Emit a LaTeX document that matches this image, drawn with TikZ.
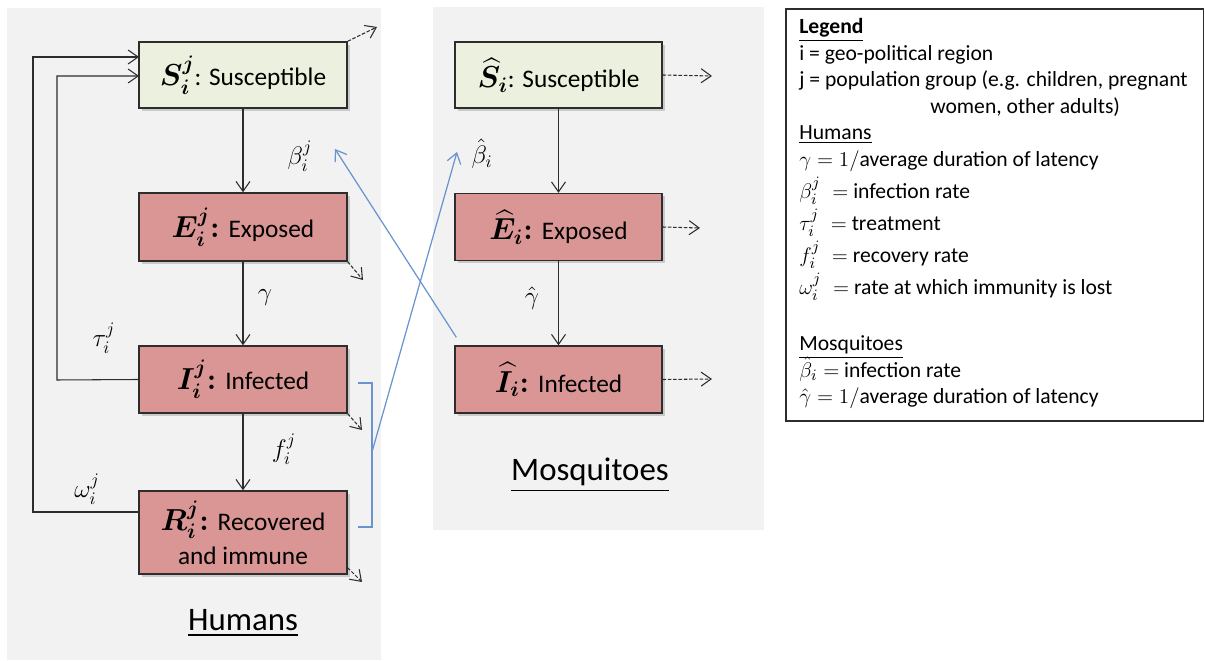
\documentclass[tikz,border=0pt]{standalone}
\usepackage{amsmath,amssymb}
\usepackage{fontspec}
\setmainfont{Carlito}
\usepackage{tikz}
\usetikzlibrary{positioning,arrows.meta,shadows}

\definecolor{panelgray}{RGB}{242,242,242}
\definecolor{suscgreen}{RGB}{235,241,222}
\definecolor{infred}{RGB}{217,150,148}
\definecolor{linkblue}{RGB}{105,148,206}
\definecolor{boxline}{RGB}{45,45,45}

\newcommand{\mlab}[1]{{\fontsize{17.5}{20}\selectfont$\boldsymbol{#1}$}}
\newcommand{\tlab}[1]{{\fontsize{14.4}{17}\selectfont #1}}
\newcommand{\legendfont}{\fontsize{12.3}{15.1}\selectfont\lineskiplimit=-20pt\relax\lineskip=0pt\relax}

\begin{document}
\begin{tikzpicture}[x=0.02cm, y=-0.02cm, >={Straight Barb[length=2mm,width=2.8mm]},
  compartment/.style={draw=boxline, line width=0.8pt, minimum width=4.16cm, align=center,
    inner sep=1pt, drop shadow={shadow xshift=0.6mm, shadow yshift=-0.6mm, opacity=0.35}},
  susc/.style={compartment, fill=suscgreen},
  sick/.style={compartment, fill=infred},
  flow/.style={->, line width=0.6pt, draw=boxline},
  outflow/.style={->, line width=0.6pt, draw=boxline, dash pattern=on 2pt off 1pt},
  bite/.style={->, line width=0.7pt, draw=linkblue},
  rate/.style={font=\fontsize{14}{16}\selectfont},
  panellabel/.style={font=\fontsize{18.7}{22}\selectfont}]

\useasboundingbox (0,0) rectangle (1205,661);

% panels
\fill[panelgray] (7,8) rectangle (381,660);
\fill[panelgray] (433,7) rectangle (764,530);

% humans
\node[susc, minimum height=1.32cm] (S) at (243,75) {\mlab{S_i^j}\tlab{: Susceptible}};
\node[sick, minimum height=1.36cm] (E) at (243,227) {\mlab{E_i^j}\mlab{:}\hspace{0.18cm}\tlab{Exposed}};
\node[sick, minimum height=1.34cm] (I) at (243,379.5) {\mlab{I_i^j}\mlab{:}\hspace{0.18cm}\tlab{Infected}};
\node[sick, minimum height=1.66cm, font=\fontsize{14.4}{19.5}\selectfont] (R) at (243,532.5)
  {\mlab{R_i^j}\mlab{:}\hspace{0.18cm}\tlab{Recovered}\\\tlab{and immune}};
\node[panellabel] (hum) at (243,623) {\underline{Humans}};

% mosquitoes
\node[susc, minimum width=4.14cm, minimum height=1.32cm] (Sh) at (558.5,75) {\mlab{\widehat{S}_i}\tlab{: Susceptible}};
\node[sick, minimum width=4.14cm, minimum height=1.34cm] (Eh) at (558.5,227) {\mlab{\widehat{E}_i}\mlab{:}\hspace{0.18cm}\tlab{Exposed}};
\node[sick, minimum width=4.14cm, minimum height=1.34cm] (Ih) at (558.5,379.5) {\mlab{\widehat{I}_i}\mlab{:}\hspace{0.18cm}\tlab{Infected}};
\node[panellabel] (mos) at (590,475) {\underline{Mosquitoes}};

% rates
\node[rate] (beta) at (300,156) {$\beta_i^j$};
\node[rate] (gam) at (265,298) {$\gamma$};
\node[rate] (tau) at (104,338) {$\tau_i^j$};
\node[rate] (frec) at (284,449) {$f_i^j$};
\node[rate] (omg) at (87,489) {$\omega_i^j$};
\node[rate] (betah) at (482,154) {$\hat{\beta}_i$};
\node[rate] (gamh) at (532,298) {$\hat{\gamma}$};

% transitions
\draw[flow] (S) -- (E);
\draw[flow] (E) -- (I);
\draw[flow] (I) -- (R);
\draw[flow] (Sh) -- (Eh);
\draw[flow] (Eh) -- (Ih);

% loops back to S
\coordinate (outerIn) at (139,57);
\coordinate (innerIn) at (139,76);
\coordinate (outerX) at (33,512);
\coordinate (innerX) at (57,380);
\draw[flow] (R.west |- outerX) -- (outerX) |- (outerIn);
\draw[flow] (I.west) -- (innerX) |- (innerIn);

% deaths
\coordinate (sOut) at (377,27);
\coordinate (eOut) at (363,280);
\coordinate (iOut) at (362,430);
\coordinate (rOut) at (362,582);
\coordinate (shOut) at (712,76);
\coordinate (ehOut) at (700,228);
\coordinate (ihOut) at (712,379);
\draw[outflow] (S.north east) -- (sOut);
\draw[outflow] (E.south east) -- (eOut);
\draw[outflow] (I.south east) -- (iOut);
\draw[outflow] ([yshift=0.14cm]R.south east) -- (rOut);
\draw[outflow] (Sh.east) -- (shOut);
\draw[outflow] (Eh.east) -- (ehOut);
\draw[outflow] (Ih.east) -- (ihOut);

% infection links
\coordinate (brTop) at (358,383);
\coordinate (brBot) at (358,527);
\coordinate (brMid) at (372,452);
\coordinate (betaTip) at (335,149);
\coordinate (betahTip) at (457,152);
\draw[linkblue, line width=0.7pt] (brTop) -- ++(14,0) |- (brBot);
\draw[bite] (brMid) -- (betahTip);
\draw[bite] ([shift={(2,-8)}]Ih.north west) -- (betaTip);

% legend
\draw[draw=boxline, line width=0.8pt] (786,9) rectangle (1203.5,421);
\node[anchor=north west, align=left, inner sep=0pt, font=\legendfont] (legend) at (799,18) {%
\textbf{\underline{Legend}}\\
i = geo-political region\\
j = population group (e.g. children, pregnant\\
\hspace*{2.62cm}women, other adults)\\
\underline{Humans}\\
$\gamma = 1/$average duration of latency\\[3.1pt]
$\beta_i^j\;=$ infection rate\\[3.1pt]
$\tau_i^j\;=$ treatment\\[3.1pt]
$f_i^j\;=$ recovery rate\\[3.1pt]
$\omega_i^j\;=$ rate at which immunity is lost\\[1.2pt]
\mbox{}\\[0.8pt]
\underline{Mosquitoes}\\
$\hat{\beta}_i =$ infection rate\\
$\hat{\gamma} = 1/$average duration of latency};

\end{tikzpicture}
\end{document}
